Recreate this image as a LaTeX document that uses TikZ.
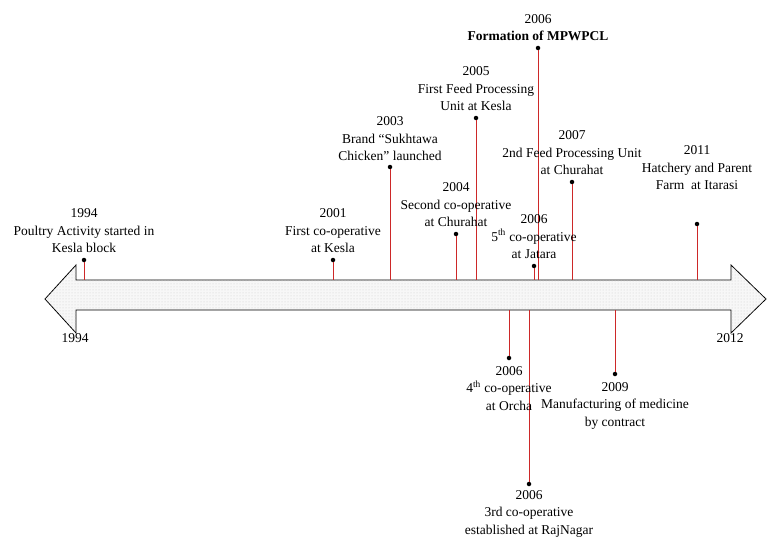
\documentclass[tikz,border=0pt]{standalone}
\usepackage{fontspec}
\setmainfont{Liberation Serif}
\usetikzlibrary{patterns}
\definecolor{stemred}{RGB}{205,40,40}
\begin{document}
\begin{tikzpicture}[x=1pt,y=-1pt,
  stem/.style={draw=stemred,line width=1pt},
  dot/.style={circle,fill=black,inner sep=0pt,minimum size=4.5pt},
  lab/.style={align=center,font=\fontsize{13.5}{17.5}\selectfont,inner sep=0pt,anchor=south},
  labb/.style={align=center,font=\fontsize{13.5}{17.5}\selectfont,inner sep=0pt,anchor=north}]
\useasboundingbox (0,0) rectangle (774,551);
\path[draw=black,line width=0.8pt,fill=gray!6,postaction={pattern=dots,pattern color=gray!40}]
 (45,299) -- (76,265) -- (76,280) -- (731,280) -- (731,265) -- (766,299) -- (731,333) -- (731,310) -- (76,310) -- (76,333) -- cycle;
\node[labb] (l1994) at (75,333) {1994};
\node[labb] (l2012) at (730,333) {2012};
% above
\foreach \n/\x/\y in {a/84/260, b/333/260, c/390/167, d/456/234, e/476/118, f/538/48, g/534/266, h/572/182, i/697/224}{
  \coordinate (\n b) at (\x,280);
  \node[dot] (\n) at (\x,\y) {};
  \draw[stem] (\n) -- (\n b);
}
\foreach \n/\x/\y in {j/509/358, k/529/484, m/615/374}{
  \coordinate (\n b) at (\x,310);
  \node[dot] (\n) at (\x,\y) {};
  \draw[stem] (\n) -- (\n b);
}
\node[lab] (ta) at (84,253) {1994\\Poultry Activity started in\\Kesla block};
\node[lab] (tb) at (333,253) {2001\\First co-operative\\at Kesla};
\node[lab] (tc) at (390,161) {2003\\Brand “Sukhtawa\\Chicken” launched};
\node[lab] (td) at (456,227) {2004\\Second co-operative\\at Churahat};
\node[lab] (te) at (476,111) {2005\\First Feed Processing\\Unit at Kesla};
\node[lab] (tf) at (538,41) {2006\\\textbf{Formation of MPWPCL}};
\node[lab] (tg) at (534,259) {2006\\5\textsuperscript{th} co-operative\\at Jatara};
\node[lab] (th) at (572,175) {2007\\2nd Feed Processing Unit\\at Churahat};
\node[lab] (ti) at (697,190) {2011\\Hatchery and Parent\\Farm\ \ at Itarasi};
\node[labb] (tj) at (509,366) {2006\\4\textsuperscript{th} co-operative\\at Orcha};
\node[labb] (tk) at (529,490) {2006\\3rd co-operative\\established at RajNagar};
\node[labb] (tm) at (615,382) {2009\\Manufacturing of medicine\\by contract};
\end{tikzpicture}
\end{document}
